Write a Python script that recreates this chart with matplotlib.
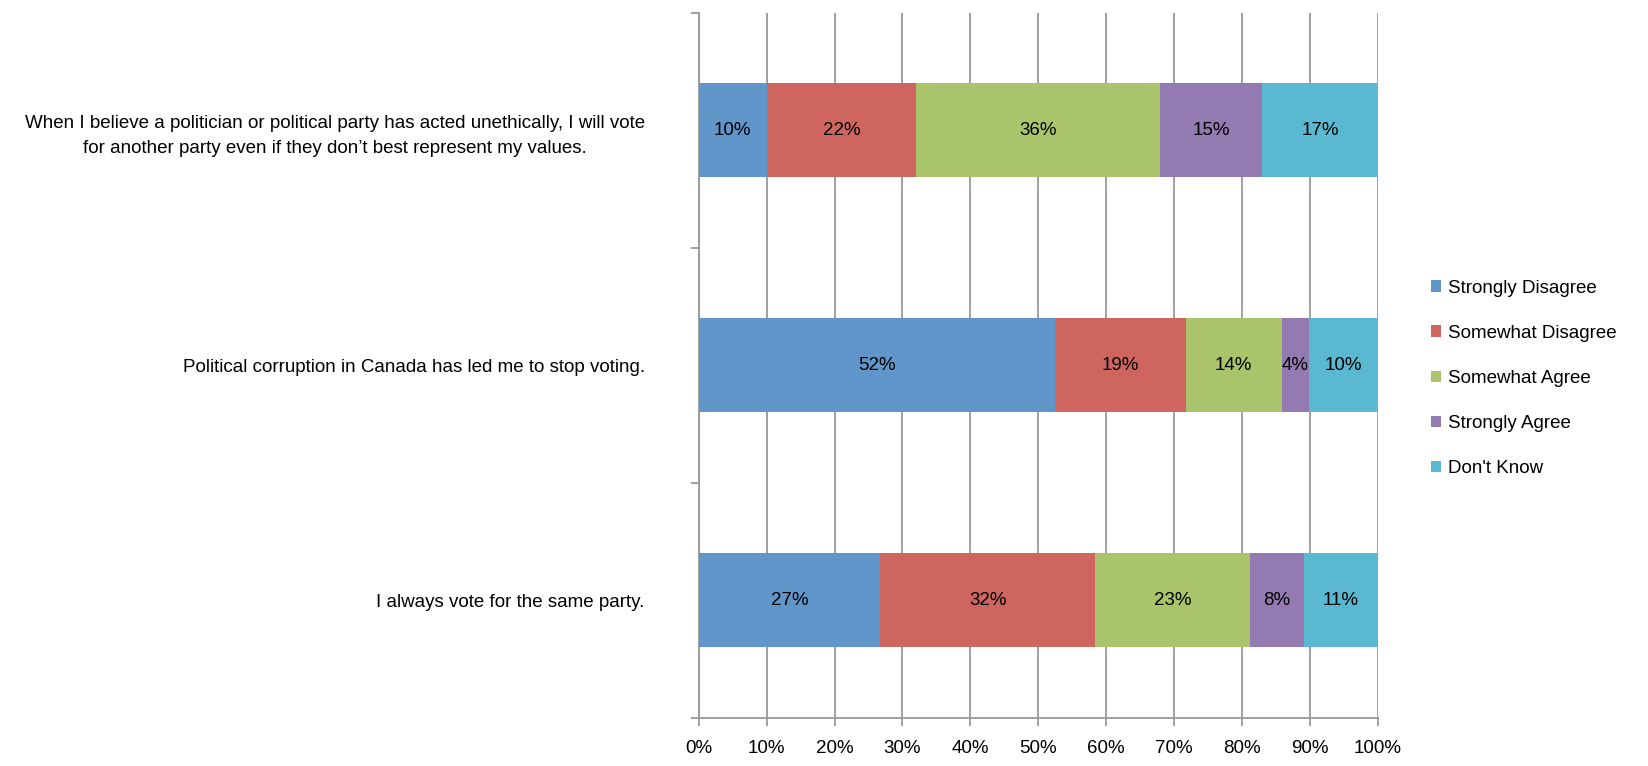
import numpy as np
import matplotlib.pyplot as plt
from matplotlib.patches import Patch
from matplotlib.transforms import ScaledTranslation

questions = [
    "When I believe a politician or political party has acted unethically, I will vote\nfor another party even if they don\u2019t best represent my values.",
    "Political corruption in Canada has led me to stop voting.",
    "I always vote for the same party.",
]
responses = ["Strongly Disagree", "Somewhat Disagree", "Somewhat Agree", "Strongly Agree", "Don't Know"]
strongly_disagree = [10, 52, 27]
somewhat_disagree = [22, 19, 32]
somewhat_agree = [36, 14, 23]
strongly_agree = [15, 4, 8]
dont_know = [17, 10, 11]
colors = ["#6096C9", "#CE665F", "#AAC46C", "#937AB0", "#5AB8D0"]

plt.rcParams['font.family'] = ['Liberation Sans', 'DejaVu Sans']
fs = 13.5

vals = np.array([strongly_disagree, somewhat_disagree, somewhat_agree, strongly_agree, dont_know], dtype=float)
share = vals / vals.sum(axis=0)  # 100% stacked

fig = plt.figure(figsize=(16.48, 7.66), dpi=100)
ax = fig.add_axes([0.424, 0.063, 0.412, 0.9205])

y = np.arange(len(questions))[::-1]
left = np.zeros(len(questions))
for i, name in enumerate(responses):
    bars = ax.barh(y, share[i], left=left, height=0.4, color=colors[i], label=name, zorder=3)
    ax.bar_label(bars, labels=["%d%%" % v for v in vals[i]], label_type='center', fontsize=fs)
    left += share[i]

ax.set_xlim(0, 1)
ax.set_ylim(-0.5, 2.5)
ax.set_xticks(np.linspace(0, 1, 11))
ax.set_xticklabels(["%d%%" % p for p in range(0, 101, 10)], fontsize=fs)
ax.set_yticks(y)
ax.set_yticklabels(questions, ha='center', multialignment='center', fontsize=fs, linespacing=1.6)
ax.set_yticks([-0.5, 0.5, 1.5, 2.5], minor=True)
ax.tick_params(axis='y', which='major', length=0, pad=0)
ax.tick_params(axis='y', which='minor', length=6, color='#999999', width=1.3)
ax.tick_params(axis='x', length=6, color='#999999', width=1.3, pad=10)

# centre the category labels so their right edge sits ~54px left of the axis
fig.canvas.draw()
r = fig.canvas.get_renderer()
for lab in ax.get_yticklabels():
    w = lab.get_window_extent(r).width
    lab.set_transform(ax.get_yaxis_transform() + ScaledTranslation(-(54 + w / 2) / 100, 0, fig.dpi_scale_trans))

ax.grid(axis='x', color='#999999', linewidth=1.3, zorder=0)
for s in ['top', 'right']:
    ax.spines[s].set_visible(False)
for s in ['left', 'bottom']:
    ax.spines[s].set_color('#999999')
    ax.spines[s].set_linewidth(1.3)

handles = [Patch(facecolor=c, label=n) for c, n in zip(colors, responses)]
fig.legend(handles=handles, loc='center left', bbox_to_anchor=(0.858, 0.506), frameon=False,
           handlelength=0.55, handleheight=0.55, handletextpad=0.35, labelspacing=1.5, fontsize=fs)

fig.savefig("out.png", dpi=100)
